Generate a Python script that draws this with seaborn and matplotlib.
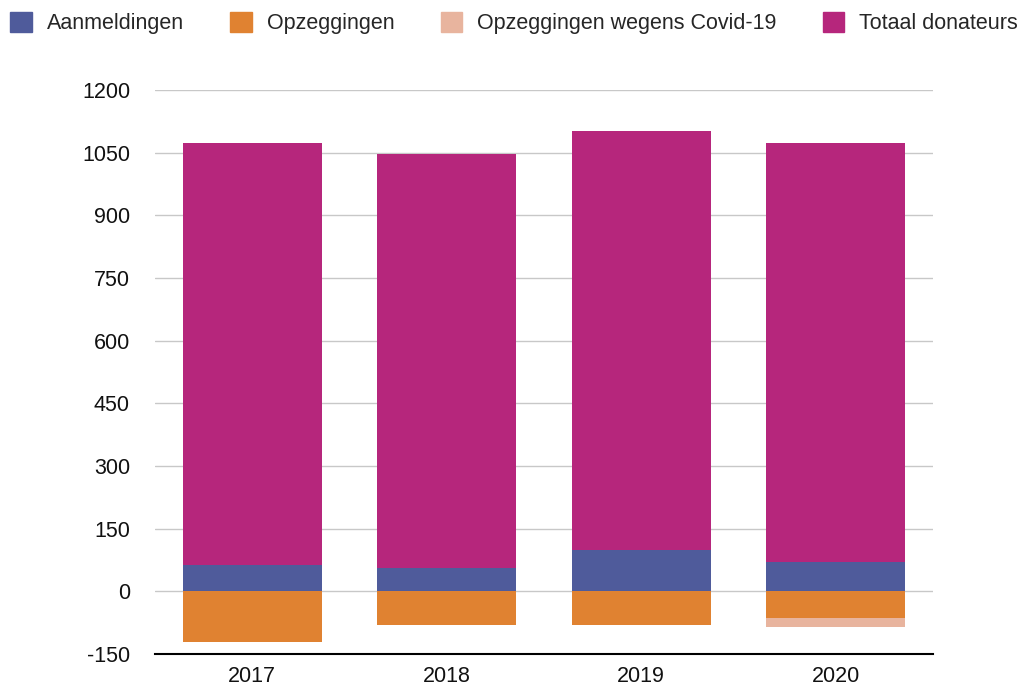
import matplotlib
matplotlib.use("Agg")
import matplotlib.pyplot as plt
import seaborn as sns
import pandas as pd
from matplotlib.patches import Patch

years = ["2017", "2018", "2019", "2020"]
aanmeldingen = [63, 57, 99, 70]
opzeggingen = [-121, -80, -80, -65]
opz_covid = [0, 0, 0, -20]
totaal_top = [1072, 1046, 1101, 1072]
totaal = [t - a for t, a in zip(totaal_top, aanmeldingen)]
yticks = [-150, 0, 150, 300, 450, 600, 750, 900, 1050, 1200]

c_aan = "#4f5b9b"
c_opz = "#e08231"
c_cov = "#e8b49e"
c_tot = "#b6267c"

sns.set_theme(style="white")
plt.rcParams['font.family'] = ['Liberation Sans', 'DejaVu Sans']

df = pd.DataFrame({"year": years, "aan": aanmeldingen, "opz": opzeggingen,
                   "cov": opz_covid, "tot": totaal})

fig = plt.figure(figsize=(10.24, 6.89), dpi=100)
ax = fig.add_axes([155/1024, 1 - 654/689, (933-155)/1024, (654-90)/689])

w = 0.715
sns.barplot(data=df, x="year", y="tot", bottom=df["aan"], color=c_tot, width=w,
            saturation=1, ax=ax, edgecolor="none")
sns.barplot(data=df, x="year", y="aan", color=c_aan, width=w, saturation=1, ax=ax,
            edgecolor="none")
sns.barplot(data=df, x="year", y="opz", color=c_opz, width=w, saturation=1, ax=ax,
            edgecolor="none")
sns.barplot(data=df, x="year", y="cov", bottom=df["opz"], color=c_cov, width=w,
            saturation=1, ax=ax, edgecolor="none")

ax.set_xlim(-0.5, 3.5)
ax.set_ylim(-150, 1200)
ax.set_yticks(yticks)
ax.set_yticklabels([str(v) for v in yticks])
ax.set_xlabel("")
ax.set_ylabel("")
for y in yticks[1:]:
    ax.axhline(y, color="#c8c8c8", lw=1, zorder=0)
ax.set_axisbelow(True)
for s in ["top", "right", "left"]:
    ax.spines[s].set_visible(False)
ax.spines["bottom"].set_color("black")
ax.spines["bottom"].set_linewidth(1.5)
ax.tick_params(axis="y", length=0, pad=18, labelsize=15.5, colors="#111111")
ax.tick_params(axis="x", length=0, pad=9, labelsize=15.5, colors="#111111")
ax.grid(False)

handles = [Patch(color=c_aan, label="Aanmeldingen"),
           Patch(color=c_opz, label="Opzeggingen"),
           Patch(color=c_cov, label="Opzeggingen wegens Covid-19"),
           Patch(color=c_tot, label="Totaal donateurs")]
fig.legend(handles=handles, loc="upper center", bbox_to_anchor=(0.502, 1.01), ncol=4,
           frameon=False, fontsize=15.5, handlelength=1.0, handleheight=1.0,
           handletextpad=0.7, columnspacing=2.15)

fig.savefig("out.png", dpi=100)
